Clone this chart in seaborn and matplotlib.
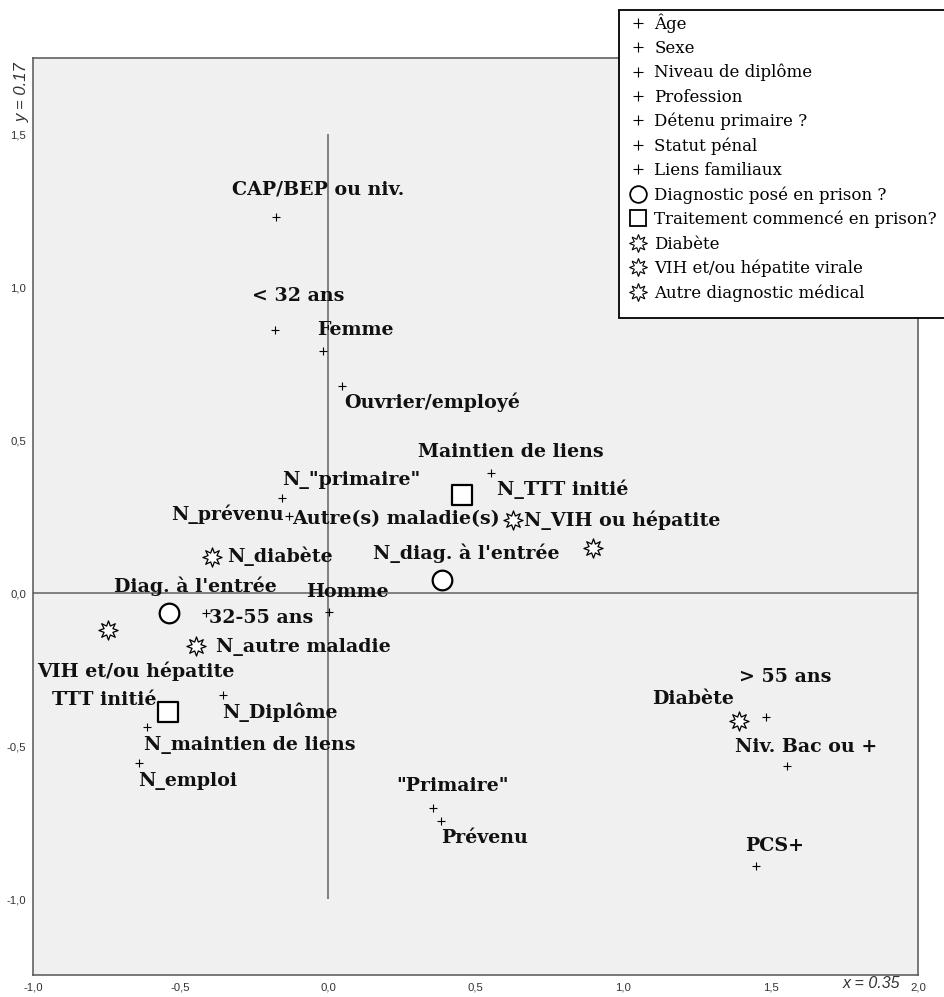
import matplotlib
matplotlib.use("Agg")
import matplotlib.pyplot as plt
import matplotlib.ticker as mticker
from matplotlib.lines import Line2D
from matplotlib.patches import Rectangle
import seaborn as sns

# === 1. Category coordinates ===
plus_labels = ["CAP/BEP ou niv.", "< 32 ans", "Femme", "Ouvrier/employé", "Maintien de liens",
               'N_"primaire"', "N_prévenu", "Homme", "32-55 ans", "N_Diplôme",
               "N_maintien de liens", "N_emploi", '"Primaire"', "Prévenu", "> 55 ans",
               "Niv. Bac ou +", "PCS+"]
plus_x = [-0.176, -0.179, -0.016, 0.046, 0.551, -0.157, -0.131, 0.004, -0.415, -0.355,
          -0.615, -0.641, 0.355, 0.383, 1.485, 1.557, 1.451]
plus_y = [1.231, 0.861, 0.791, 0.676, 0.393, 0.311, 0.253, -0.061, -0.065, -0.332,
          -0.437, -0.555, -0.702, -0.746, -0.405, -0.564, -0.893]

circle_labels = ["Diag. à l'entrée", "N_diag. à l'entrée"]
circle_x = [-0.538, 0.387]
circle_y = [-0.065, 0.042]

square_labels = ["N_TTT initié", "TTT initié"]
square_x = [0.453, -0.541]
square_y = [0.322, -0.388]

star_labels = ["N_diabète", "Diabète", "VIH et/ou hépatite", "N_VIH ou hépatite",
               "N_autre maladie", "Autre(s) maladie(s)"]
star_x = [-0.394, 1.394, -0.747, 0.626, -0.447, 0.899]
star_y = [0.120, -0.417, -0.121, 0.240, -0.174, 0.148]

legend_labels = ["Âge", "Sexe", "Niveau de diplôme", "Profession", "Détenu primaire ?",
                 "Statut pénal", "Liens familiaux", "Diagnostic posé en prison ?",
                 "Traitement commencé en prison?", "Diabète", "VIH et/ou hépatite virale",
                 "Autre diagnostic médical"]

# label placement (offset in pixels from the point, horizontal alignment)
label_offsets = {
    "CAP/BEP ou niv.": (42, 27, "center"), "< 32 ans": (23, 34, "center"),
    "Femme": (32, 21, "center"), "Ouvrier/employé": (91, -16, "center"),
    "Maintien de liens": (20, 21, "center"), 'N_"primaire"': (70, 18, "center"),
    "N_prévenu": (-6, 2, "right"), "Homme": (18, 20, "center"),
    "32-55 ans": (3, -5, "left"), "N_Diplôme": (57, -18, "center"),
    "N_maintien de liens": (103, -18, "center"), "N_emploi": (49, -18, "center"),
    '"Primaire"': (20, 22, "center"), "Prévenu": (44, -17, "center"),
    "> 55 ans": (19, 40, "center"), "Niv. Bac ou +": (19, 19, "center"),
    "PCS+": (19, 20, "center"),
    "Diag. à l'entrée": (26, 27, "center"), "N_diag. à l'entrée": (24, 27, "center"),
    "N_TTT initié": (35, 5, "left"), "TTT initié": (-12, 12, "right"),
    "N_diabète": (15, 0, "left"), "Diabète": (-46, 22, "center"),
    "VIH et/ou hépatite": (28, -41, "center"), "N_VIH ou hépatite": (11, 0, "left"),
    "N_autre maladie": (20, -1, "left"), "Autre(s) maladie(s)": (-93, 29, "right"),
}

# === 2. Figure ===
sns.set_theme(style="white")
plt.rcParams["font.family"] = ["DejaVu Serif"]
plt.rcParams["text.color"] = "black"

fig = plt.figure(figsize=(9.44, 9.97), dpi=100)
ax = fig.add_axes([0.035, 0.0216, 0.9375, 0.9202])
ax.set_facecolor("#f0f0f0")

ax.axhline(0, color="#777777", lw=1.3, zorder=1)
ax.vlines(0, -1.0, 1.5, color="#777777", lw=1.3, zorder=1)

star = (8, 1, 0)
sns.scatterplot(x=plus_x, y=plus_y, marker="+", color="black", s=36, linewidth=0.8, ax=ax, zorder=3)
sns.scatterplot(x=circle_x, y=circle_y, marker="o", color="white", edgecolor="black",
                s=200, linewidth=1.6, ax=ax, zorder=3)
sns.scatterplot(x=square_x, y=square_y, marker="s", color="white", edgecolor="black",
                s=200, linewidth=1.6, ax=ax, zorder=3)
sns.scatterplot(x=star_x, y=star_y, marker=star, color="white", edgecolor="black",
                s=190, linewidth=0.9, ax=ax, zorder=3)

for labels, xs, ys in [(plus_labels, plus_x, plus_y), (circle_labels, circle_x, circle_y),
                       (square_labels, square_x, square_y), (star_labels, star_x, star_y)]:
    for lab, x, y in zip(labels, xs, ys):
        dx, dy, ha = label_offsets[lab]
        ax.annotate(lab, (x, y), xytext=(dx, dy), textcoords="offset pixels",
                    ha=ha, va="center", fontsize=13.7, fontweight="bold",
                    color="#111111", zorder=4)

ax.set_xlim(-1.0, 2.0)
ax.set_ylim(-1.25, 1.75)
ax.set_xticks([-1.0, -0.5, 0.0, 0.5, 1.0, 1.5, 2.0])
ax.set_yticks([-1.0, -0.5, 0.0, 0.5, 1.0, 1.5])
comma = mticker.FuncFormatter(lambda v, p: f"{v:.1f}".replace(".", ","))
ax.xaxis.set_major_formatter(comma)
ax.yaxis.set_major_formatter(comma)
ax.tick_params(direction="out", length=4, width=1, color="#444444",
               labelsize=8.2, labelcolor="#333333", pad=1)
for lab in ax.get_xticklabels() + ax.get_yticklabels():
    lab.set_family("Liberation Sans")
for sp in ax.spines.values():
    sp.set_color("#555555")
    sp.set_linewidth(1.1)

fig.text(22 / 944, 1 - 92 / 997, "y = 0.17", rotation=90, ha="center", va="center",
         fontsize=12, style="italic", family="Liberation Sans", color="#333333")
fig.text(900 / 944, 1 - 983 / 997, "x = 0.35", ha="right", va="center",
         fontsize=11.5, style="italic", family="Liberation Sans", color="#333333")

# === 3. Legend (frame drawn separately, it runs off the right edge) ===
fig.patches.append(Rectangle((619 / 944, 1 - 318 / 997), 340 / 944, 308 / 997,
                             transform=fig.transFigure, facecolor="white",
                             edgecolor="black", lw=1.3, zorder=3))


def handle(marker, size, lw):
    return Line2D([], [], ls="none", marker=marker, markersize=size, markeredgewidth=lw,
                  markerfacecolor="white", markeredgecolor="black")


handles = [handle("+", 7, 0.8) for _ in range(7)]
handles += [handle("o", 12, 1.3), handle("s", 12, 1.3)]
handles += [handle(star, 13, 0.8) for _ in range(3)]

leg = fig.legend(handles, legend_labels, loc="upper left", bbox_to_anchor=(630 / 944, 1 - 13 / 997),
                 frameon=False, fontsize=12, handlelength=0.9, handletextpad=0.55,
                 borderpad=0, labelspacing=0.43, borderaxespad=0)
leg.set_zorder(5)
for t in leg.get_texts():
    t.set_color("black")

plt.savefig("out.png", dpi=100)
plt.close()
